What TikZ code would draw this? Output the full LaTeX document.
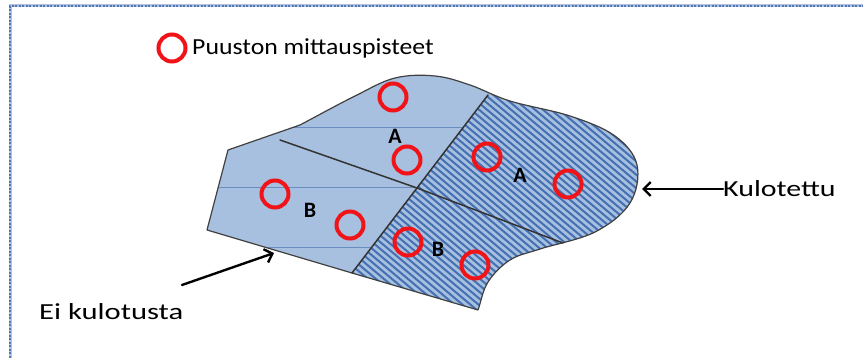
\documentclass[tikz,border=0pt]{standalone}
\usepackage{fontspec}
\setmainfont{Carlito}
\usetikzlibrary{arrows.meta}
\definecolor{areafill}{RGB}{168,192,224}
\definecolor{stripecol}{RGB}{68,112,178}
\definecolor{framecol}{RGB}{79,120,180}
\definecolor{ringcol}{RGB}{240,20,24}
\tikzstyle{ring}=[circle, draw=ringcol, line width=4pt, minimum size=27pt, inner sep=0pt]
\tikzstyle{zone}=[font=\fontsize{22}{22}\selectfont\bfseries, inner sep=0pt]
\tikzstyle{note}=[font=\fontsize{23}{23}\selectfont, inner sep=0pt, anchor=west]
\tikzstyle{pointer}=[line width=2.4pt, line cap=round, -{Straight Barb[length=7pt,width=14pt]}]
\tikzstyle{divider}=[black!80, line width=1.5pt, line cap=round, line join=round]

\begin{document}
\begin{tikzpicture}[x=1pt,y=-1pt]
% Burnt and unburnt plots
	\newcommand\wide[2]{\scalebox{#1}[1]{#2}} %stretch text sideways
	\newcommand\plotoutline{(228,150) -- (207,230) -- (352,273) -- (478,310)
		.. controls (481.3,300.7) and (482.7,290.3) .. (488,282)
		.. controls (493.3,273.7) and (501.3,265.5) .. (510,260)
		.. controls (518.7,254.5) and (525.8,253.7) .. (540,249)
		.. controls (554.2,244.3) and (580,239.7) .. (595,232)
		.. controls (610,224.3) and (623,214.2) .. (630,203)
		.. controls (637,191.8) and (639.5,176.2) .. (637,165)
		.. controls (634.5,153.8) and (626.2,144.2) .. (615,136)
		.. controls (603.8,127.8) and (587.5,121.8) .. (570,116)
		.. controls (552.5,110.2) and (526.7,106.2) .. (510,101)
		.. controls (493.3,95.8) and (482.5,89.2) .. (470,85)
		.. controls (457.5,80.8) and (447.5,77.2) .. (435,76)
		.. controls (422.5,74.8) and (408.3,74.7) .. (395,78)
		.. controls (381.7,81.3) and (370.8,88.2) .. (355,96)
		.. controls (339.2,103.8) and (318.3,115.3) .. (300,125)
		-- cycle} %outline of the whole area
	\useasboundingbox (0,0) rectangle (863,358);
	%Frame
	\coordinate (FRB) at (10,358); % FRB = frame bottom
	\coordinate (FRC) at (10,6); % FRC = frame corner
	\coordinate (FRR) at (863,6); % FRR = frame right
	\draw [draw=framecol!45, line width=3pt] (FRB) -- (FRC) -- (FRR);
	\draw [draw=framecol, line width=2.4pt, dash pattern=on 2pt off 1.5pt] (FRB) -- (FRC) -- (FRR);
	%Area
	\fill [areafill] \plotoutline;
	\begin{scope}
		\clip \plotoutline;
		\foreach \y in {127,187,247}
			\draw [stripecol!80, line width=0.6pt] (200,\y) -- (500,\y); % faint lines of the unburnt part
		\clip (519,57) -- (488,95) -- (417,188) -- (352,273) -- (345,282) -- (700,400) -- (700,0) -- cycle; % burnt part
		\fill [areafill] (300,0) rectangle (700,400);
		\foreach \i in {-400,-392,...,400}
			\draw [stripecol, line width=2pt] (300+\i,60) -- ++(380,320);
	\end{scope}
	\draw [black!75, line width=1.2pt, line join=round] \plotoutline;
	%Dividers
	\coordinate (T) at (488,95); % T is the top end of the divider
	\coordinate (C) at (417,188); % C is the crossing of the dividers
	\coordinate (P3) at (352,273); % P3 is the bottom end of the divider
	\coordinate (L) at (280,140); % L is the left end of the divider
	\coordinate (R) at (563,243); % R is the right end of the divider
	\draw [divider] (T) -- (C) -- (P3);
	\draw [divider] (L) -- (C) -- (R);
	%Measuring points
	\node [ring] (c1) at (393,97) {};
	\node [ring] (c2) at (407,160) {};
	\node [ring] (c3) at (487,157) {};
	\node [ring] (c4) at (568,184) {};
	\node [ring] (c5) at (275,194) {};
	\node [ring] (c6) at (350,225) {};
	\node [ring] (c7) at (408,242) {};
	\node [ring] (c8) at (475,265) {};
	\node [zone] (A1) at (395,136) {A};
	\node [zone] (A2) at (520,175) {A};
	\node [zone] (B1) at (310,210) {B};
	\node [zone] (B2) at (438,249) {B};
	%Legend and descriptions
	\node [ring] (cl) at (172,48) {};
	\node [note] (legend) at (192,48) {\wide{1.12}{Puuston mittauspisteet}};
	\node [note] (burnt) at (723,189) {\wide{1.3}{Kulotettu}};
	\node [note] (unburnt) at (39,312) {\wide{1.33}{Ei kulotusta}};
	\coordinate (BT) at (642,189); % BT is the tip of the burnt arrow
	\coordinate (UT) at (274,253); % UT is the tip of the unburnt arrow
	\coordinate (US) at (182,285); % US is the start of the unburnt arrow
	\draw [pointer] (burnt.west) -- (BT);
	\draw [pointer] (US) -- (UT);
\end{tikzpicture}
\end{document}
